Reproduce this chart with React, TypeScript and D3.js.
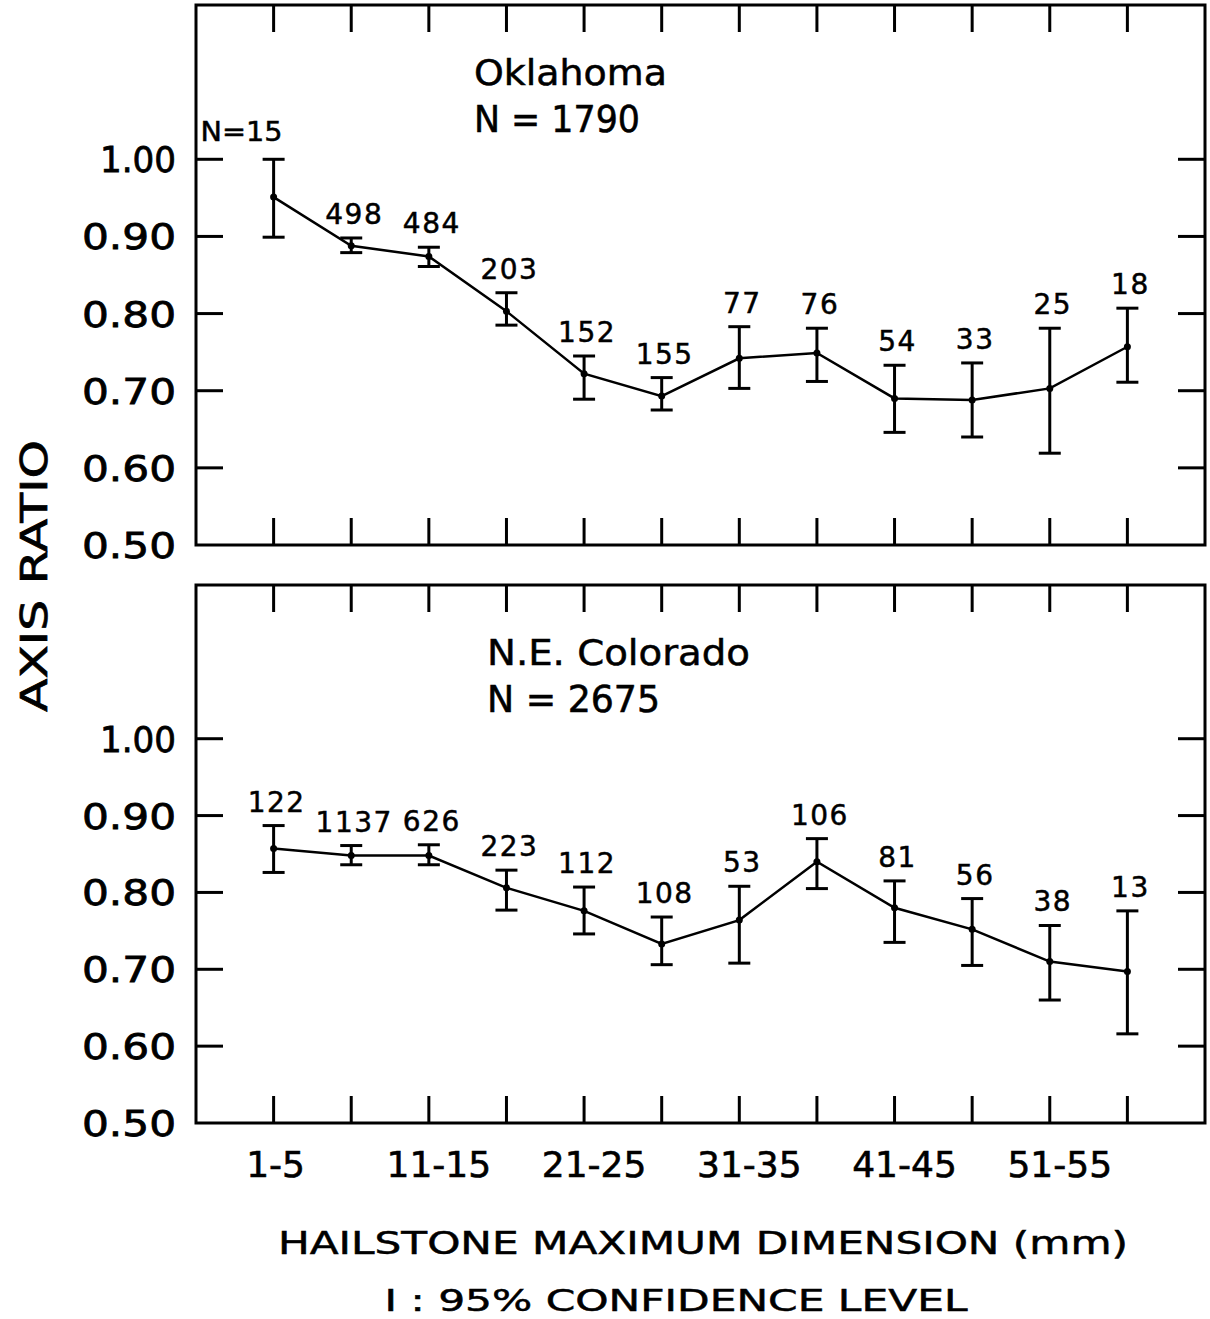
import React from "react";
import * as d3 from "d3";

// ---------- data ----------
const bins = ["1-5", "6-10", "11-15", "16-20", "21-25", "26-30", "31-35", "36-40", "41-45", "46-50", "51-55", "56-60"];
const shownBinLabels = ["1-5", "11-15", "21-25", "31-35", "41-45", "51-55"];
const yTicks = [0.5, 0.6, 0.7, 0.8, 0.9, 1.0];
const yTickLabels = ["0.50", "0.60", "0.70", "0.80", "0.90", "1.00"];

const okTitle = "Oklahoma";
const okTotal = "N = 1790";
const okMean = [0.951, 0.888, 0.874, 0.803, 0.722, 0.693, 0.742, 0.749, 0.690, 0.688, 0.703, 0.757];
const okHigh = [1.0, 0.898, 0.886, 0.827, 0.745, 0.717, 0.783, 0.781, 0.733, 0.736, 0.781, 0.807];
const okLow = [0.899, 0.879, 0.861, 0.785, 0.689, 0.675, 0.703, 0.712, 0.646, 0.640, 0.619, 0.711];
const okN = ["N=15", "498", "484", "203", "152", "155", "77", "76", "54", "33", "25", "18"];

const coTitle = "N.E. Colorado";
const coTotal = "N = 2675";
const coMean = [0.857, 0.848, 0.848, 0.806, 0.776, 0.733, 0.764, 0.840, 0.780, 0.752, 0.710, 0.697];
const coHigh = [0.887, 0.861, 0.862, 0.829, 0.807, 0.768, 0.808, 0.870, 0.815, 0.792, 0.757, 0.776];
const coLow = [0.826, 0.836, 0.836, 0.777, 0.746, 0.706, 0.708, 0.805, 0.735, 0.705, 0.660, 0.616];
const coN = ["122", "1137", "626", "223", "112", "108", "53", "106", "81", "56", "38", "13"];

const yAxisTitle = "AXIS RATIO";
const xAxisTitle = "HAILSTONE MAXIMUM DIMENSION (mm)";
const noteText = "I : 95% CONFIDENCE LEVEL";

// ---------- layout ----------
const W = 1210;
const H = 1319;
const left = 196;
const right = 1205;
const FONT = "'DejaVu Sans', sans-serif";

const x = d3.scaleLinear().domain([-1, 12]).range([left, right]);

type PanelProps = {
  top: number;
  bottom: number;
  mean: number[];
  high: number[];
  low: number[];
  counts: string[];
  title: string;
  total: string;
  titleX: number;
  titleLen: number;
  totalLen: number;
};

function Panel({ top, bottom, mean, high, low, counts, title, total, titleX, titleLen, totalLen }: PanelProps) {
  const y = d3.scaleLinear().domain([0.5, 1.2]).range([bottom, top]);
  const line = d3
    .line<number>()
    .x((_, i) => x(i))
    .y((d) => y(d));
  const tickLen = 27;
  const capHalf = 11;
  return (
    <g>
      <rect x={left} y={top} width={right - left} height={bottom - top} fill="none" stroke="#000" strokeWidth={3} />
      {bins.map((b, i) => (
        <g key={b}>
          <line x1={x(i)} x2={x(i)} y1={top} y2={top + tickLen} stroke="#000" strokeWidth={3} />
          <line x1={x(i)} x2={x(i)} y1={bottom} y2={bottom - tickLen} stroke="#000" strokeWidth={3} />
        </g>
      ))}
      {yTicks.slice(1).map((t) => (
        <g key={t}>
          <line x1={left} x2={left + tickLen} y1={y(t)} y2={y(t)} stroke="#000" strokeWidth={3} />
          <line x1={right} x2={right - tickLen} y1={y(t)} y2={y(t)} stroke="#000" strokeWidth={3} />
        </g>
      ))}
      {yTicks.map((t, i) => (
        <text
          key={"l" + t}
          x={176}
          y={y(t) + 13}
          textAnchor="end"
          fontFamily={FONT}
          fontSize={36}
          stroke="#000"
          strokeWidth={0.8}
          textLength={yTickLabels[i].startsWith("1") ? 76 : 94}
          lengthAdjust="spacingAndGlyphs"
        >
          {yTickLabels[i]}
        </text>
      ))}
      <text
        x={titleX}
        y={top + 80}
        fontFamily={FONT}
        fontSize={35}
        stroke="#000"
        strokeWidth={0.5}
        textLength={titleLen}
        lengthAdjust="spacingAndGlyphs"
      >
        {title}
      </text>
      <text
        x={titleX}
        y={top + 127}
        fontFamily={FONT}
        fontSize={38}
        stroke="#000"
        strokeWidth={0.6}
        textLength={totalLen}
        lengthAdjust="spacingAndGlyphs"
      >
        {total}
      </text>
      <path d={line(mean) || ""} fill="none" stroke="#000" strokeWidth={2.5} />
      {mean.map((m, i) => (
        <g key={"e" + i}>
          <line x1={x(i)} x2={x(i)} y1={y(high[i])} y2={y(low[i])} stroke="#000" strokeWidth={3} />
          <line x1={x(i) - capHalf} x2={x(i) + capHalf} y1={y(high[i])} y2={y(high[i])} stroke="#000" strokeWidth={3} />
          <line x1={x(i) - capHalf} x2={x(i) + capHalf} y1={y(low[i])} y2={y(low[i])} stroke="#000" strokeWidth={3} />
          <circle cx={x(i)} cy={y(m)} r={3.5} fill="#000" />
        </g>
      ))}
      {counts.map((c, i) => {
        const isN = i === 0 && c.startsWith("N");
        return (
          <text
            key={"n" + i}
            x={isN ? x(i) - 32 : x(i) + 3}
            y={y(high[i]) - (isN ? 18 : 14)}
            textAnchor="middle"
            fontFamily={FONT}
            fontSize={isN ? 26 : 28}
            letterSpacing={isN ? 0 : 1.5}
            stroke="#000"
            strokeWidth={0.5}
            textLength={isN ? 82 : undefined}
            lengthAdjust="spacingAndGlyphs"
          >
            {c}
          </text>
        );
      })}
    </g>
  );
}

export default function App() {
  return (
    <svg
      width={W}
      height={H}
      viewBox={`0 0 ${W} ${H}`}
      style={{ position: "absolute", left: 0, top: 0, background: "#fff" }}
    >
      <rect x={0} y={0} width={W} height={H} fill="#fff" />
      <Panel
        top={5}
        bottom={545}
        mean={okMean}
        high={okHigh}
        low={okLow}
        counts={okN}
        title={okTitle}
        total={okTotal}
        titleX={474}
        titleLen={193}
        totalLen={166}
      />
      <Panel
        top={585}
        bottom={1123}
        mean={coMean}
        high={coHigh}
        low={coLow}
        counts={coN}
        title={coTitle}
        total={coTotal}
        titleX={487}
        titleLen={263}
        totalLen={173}
      />
      {shownBinLabels.map((b, i) => (
        <text
          key={b}
          x={x(bins.indexOf(b)) + (i === 0 ? 2 : 10)}
          y={1177}
          textAnchor="middle"
          fontFamily={FONT}
          fontSize={36}
          stroke="#000"
          strokeWidth={0.6}
        >
          {b}
        </text>
      ))}
      <text
        transform="translate(47,576) rotate(-90)"
        textAnchor="middle"
        fontFamily={FONT}
        fontSize={38}
        stroke="#000"
        strokeWidth={0.7}
        textLength={272}
        lengthAdjust="spacingAndGlyphs"
      >
        {yAxisTitle}
      </text>
      <text
        x={703}
        y={1254}
        textAnchor="middle"
        fontFamily={FONT}
        fontSize={32}
        textLength={850}
        lengthAdjust="spacingAndGlyphs"
        stroke="#000"
        strokeWidth={0.5}
      >
        {xAxisTitle}
      </text>
      <text
        x={676}
        y={1311}
        textAnchor="middle"
        fontFamily={FONT}
        fontSize={30}
        textLength={583}
        lengthAdjust="spacingAndGlyphs"
        stroke="#000"
        strokeWidth={0.5}
      >
        {noteText}
      </text>
    </svg>
  );
}
